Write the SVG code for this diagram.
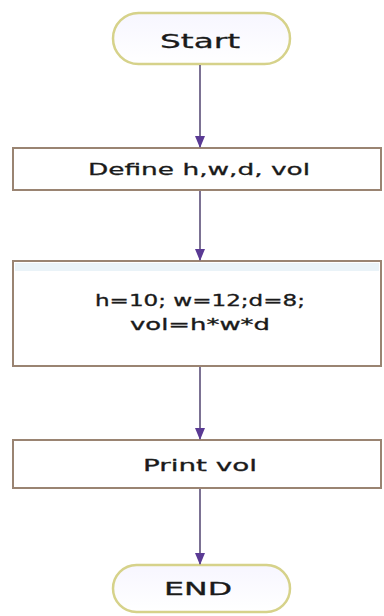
<svg xmlns="http://www.w3.org/2000/svg" width="384" height="616" viewBox="0 0 384 616">
  <style>
    .term { fill: url(#termFill); stroke: #d6d28a; stroke-width: 2.5; }
    .box { fill: #ffffff; stroke: #9a8472; stroke-width: 2; }
    .band { fill: #eaf3f8; }
    .lbl { font-family: "DejaVu Sans", "Liberation Sans", sans-serif; fill: #1a1a1a; text-anchor: middle; stroke: #1a1a1a; stroke-width: 0.3; }
    .flow { stroke: #5b4e78; stroke-width: 1.6; fill: none; marker-end: url(#arrow); }
  </style>
  <defs>
    <linearGradient id="termFill" x1="0" y1="0" x2="0" y2="1">
      <stop offset="0" stop-color="#f7f6ff"/>
      <stop offset="1" stop-color="#ffffff"/>
    </linearGradient>
    <marker id="arrow" viewBox="0 0 12 10" refX="11" refY="5" markerWidth="12" markerHeight="10" markerUnits="userSpaceOnUse" orient="auto">
      <path d="M0,0 L12,5 L0,10 Z" fill="#5a3a94"/>
    </marker>
  </defs>

  <g id="start">
    <rect class="term" x="113" y="13" width="177" height="51" rx="25.5"/>
    <text class="lbl" x="200" y="48" font-size="20" textLength="80" lengthAdjust="spacingAndGlyphs">Start</text>
  </g>

  <g id="define">
    <rect class="box" x="13" y="148" width="368" height="42"/>
    <text class="lbl" x="199" y="175" font-size="16" textLength="222" lengthAdjust="spacingAndGlyphs">Define h,w,d, vol</text>
  </g>

  <g id="assign">
    <rect class="box" x="13" y="261" width="368" height="105"/>
    <rect class="band" x="15" y="263" width="364" height="8"/>
    <text class="lbl" x="200" y="306" font-size="15" textLength="210" lengthAdjust="spacingAndGlyphs">h=10; w=12;d=8;</text>
    <text class="lbl" x="200" y="330" font-size="15" textLength="140" lengthAdjust="spacingAndGlyphs">vol=h*w*d</text>
  </g>

  <g id="print">
    <rect class="box" x="13" y="440" width="368" height="48"/>
    <text class="lbl" x="200" y="471" font-size="16" textLength="114" lengthAdjust="spacingAndGlyphs">Print vol</text>
  </g>

  <g id="end">
    <rect class="term" x="113" y="565" width="177" height="47" rx="23.5"/>
    <text class="lbl" x="198" y="595" font-size="17" textLength="68" lengthAdjust="spacingAndGlyphs">END</text>
  </g>

  <g id="connectors">
    <line class="flow" x1="200" y1="65" x2="200" y2="147"/>
    <line class="flow" x1="200" y1="191" x2="200" y2="260"/>
    <line class="flow" x1="200" y1="367" x2="200" y2="439"/>
    <line class="flow" x1="200" y1="489" x2="200" y2="564"/>
  </g>
</svg>
